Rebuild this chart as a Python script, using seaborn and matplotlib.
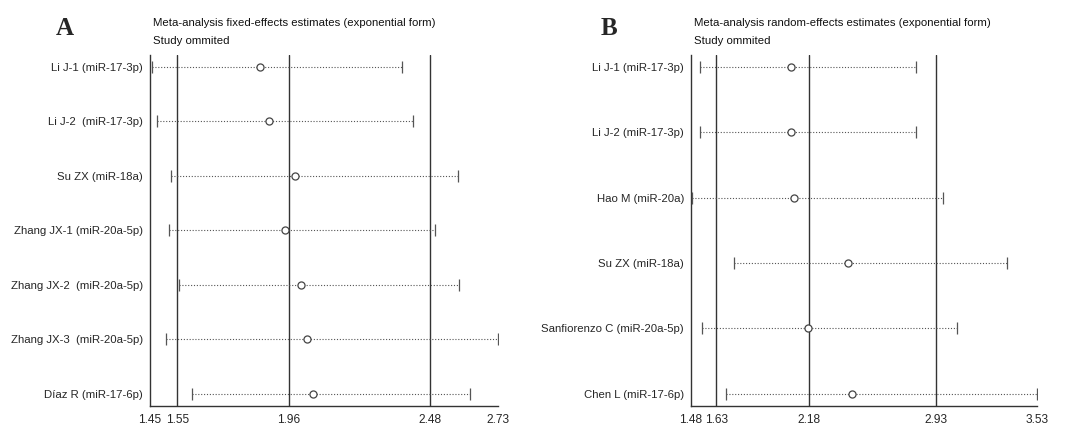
import matplotlib
matplotlib.use("Agg")
import matplotlib.pyplot as plt
import seaborn as sns
import pandas as pd

# Panel A: fixed-effects, one study omitted at a time
studies_a = ["Li J-1 (miR-17-3p)", "Li J-2  (miR-17-3p)", "Su ZX (miR-18a)",
             "Zhang JX-1 (miR-20a-5p)", "Zhang JX-2  (miR-20a-5p)",
             "Zhang JX-3  (miR-20a-5p)", "Díaz R (miR-17-6p)"]
est_a = [1.855, 1.888, 1.982, 1.948, 2.006, 2.026, 2.051]
low_a = [1.456, 1.475, 1.527, 1.520, 1.557, 1.508, 1.604]
high_a = [2.378, 2.418, 2.582, 2.498, 2.588, 2.731, 2.626]
ticks_a = [1.45, 1.55, 1.96, 2.48, 2.73]
ref_a = [1.55, 1.96, 2.48]

# Panel B: random-effects, one study omitted at a time
studies_b = ["Li J-1 (miR-17-3p)", "Li J-2 (miR-17-3p)", "Hao M (miR-20a)",
             "Su ZX (miR-18a)", "Sanfiorenzo C (miR-20a-5p)", "Chen L (miR-17-6p)"]
est_b = [2.073, 2.073, 2.093, 2.413, 2.172, 2.437]
low_b = [1.533, 1.533, 1.488, 1.737, 1.543, 1.686]
high_b = [2.815, 2.815, 2.977, 3.352, 3.060, 3.530]
ticks_b = [1.48, 1.63, 2.18, 2.93, 3.53]
ref_b = [1.63, 2.18, 2.93]

sns.set_style("white")
plt.rcParams["font.family"] = ["Liberation Sans", "DejaVu Sans"]

W, H = 1067, 429
fig = plt.figure(figsize=(W / 100, H / 100), dpi=100)

LINE = "#333333"
DOT = "#555555"
FS = 8.2


def panel(rect, names, est, low, high, ticks, refs, pad_top, pad_bot, title, letter, letter_x):
    ax = fig.add_axes(rect)
    df = pd.DataFrame({"study": names, "est": est, "low": low, "high": high})
    df["row"] = range(len(df))
    n = len(df)

    for r in refs:
        ax.axvline(r, color=LINE, lw=1.0, zorder=1)

    ax.hlines(df["row"], df["low"], df["high"], colors=DOT, lw=0.8,
              linestyles=(0, (1, 1.6)), zorder=2)
    ax.plot(df["low"], df["row"], ls="none", marker="|", ms=8, mew=0.9, color=DOT, zorder=3)
    ax.plot(df["high"], df["row"], ls="none", marker="|", ms=8, mew=0.9, color=DOT, zorder=3)
    sns.scatterplot(data=df, x="est", y="row", ax=ax, marker="o", s=26,
                    facecolor="white", edgecolor="#444444", linewidth=0.9, zorder=4)

    ax.set_xlim(ticks[0], ticks[-1])
    ax.set_ylim(n - 1 + pad_bot, -pad_top)
    ax.set_xticks(ticks)
    ax.set_xticklabels([f"{t:.2f}" for t in ticks], fontsize=8.6)
    ax.set_yticks(df["row"])
    ax.set_yticklabels(df["study"], fontsize=FS)
    ax.set_xlabel("")
    ax.set_ylabel("")
    ax.tick_params(axis="y", length=0, pad=5)
    ax.tick_params(axis="x", length=4, width=0.9, color=LINE, pad=2, direction="out")
    for side in ("top", "right"):
        ax.spines[side].set_visible(False)
    for side in ("left", "bottom"):
        ax.spines[side].set_color(LINE)
        ax.spines[side].set_linewidth(1.0)

    x0 = rect[0] + 3 / W
    fig.text(x0, 1 - 23 / H, title, fontsize=FS, ha="left", va="center", color="#111111")
    fig.text(x0, 1 - 41 / H, "Study ommited", fontsize=FS, ha="left", va="center", color="#111111")
    fig.text(letter_x / W, 1 - 35 / H, letter, fontsize=18, fontweight="bold",
             family="Liberation Serif", ha="center", va="baseline")
    return ax


top, bottom = 55, 406
rect_h = (bottom - top) / H
panel([150 / W, 1 - bottom / H, (498 - 150) / W, rect_h], studies_a, est_a, low_a, high_a,
      ticks_a, ref_a, 11.7 / 54.5, 12.3 / 54.5,
      "Meta-analysis fixed-effects estimates (exponential form)", "A", 65)
panel([691 / W, 1 - bottom / H, (1036.7 - 691) / W, rect_h], studies_b, est_b, low_b, high_b,
      ticks_b, ref_b, 11.7 / 65.4, 12.3 / 65.4,
      "Meta-analysis random-effects estimates (exponential form)", "B", 609)

fig.savefig("out.png", dpi=100)
